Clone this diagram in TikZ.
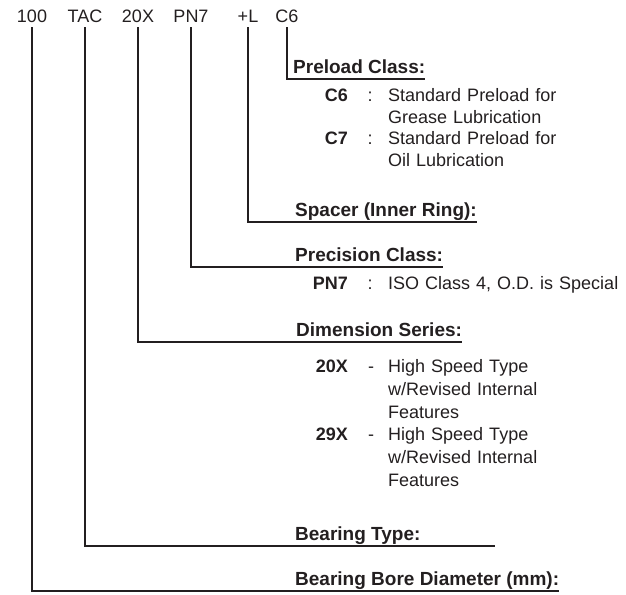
\documentclass[tikz,border=0pt]{standalone}
\usepackage{fontspec}
\setmainfont{Liberation Sans}
\usetikzlibrary{positioning,calc}
\definecolor{CodeInk}{HTML}{231F20}

\begin{document}
\begin{tikzpicture}[
    x=1pt, y=1pt,
    font=\fontsize{18}{21.5}\selectfont,
    text=CodeInk,
    code/.style={
      inner xsep=0pt,
      inner ysep=4pt,
      text depth=0pt,
      anchor=base
    },
    head/.style={
      font=\fontsize{19}{22}\selectfont\bfseries,
      inner xsep=0pt,
      inner ysep=5.5pt,
      text depth=0pt,
      anchor=south west
    },
    key/.style={font=\fontsize{18}{21.5}\selectfont\bfseries, inner sep=0pt, anchor=base east},
    sep/.style={inner sep=0pt, anchor=base},
    desc/.style={inner sep=0pt, anchor=base west, text width=236pt, align=left},
    lead/.style={draw=CodeInk, line width=2pt}
  ]
  \useasboundingbox (0,0) rectangle (626,594);

  \node[code] (c100) at (32,571) {100};
  \node[code] (cTAC) at (85,571) {TAC};
  \node[code] (c20X) at (138,571) {20X};
  \node[code] (cPN7) at (191,571) {PN7};
  \node[code] (cL) at (248,571) {+L};
  \node[code] (cC6) at (287,571) {C6};

  \node[head] (hPre) at (293,515) {Preload Class:};
  \node[key] (kC6) at (348,492) {C6};
  \node[sep] (sC6) at (370,492) {:};
  \node[desc] (dC6) at (388,492) {Standard Preload for\\Grease Lubrication};
  \node[key] (kC7) at (348,449) {C7};
  \node[sep] (sC7) at (370,449) {:};
  \node[desc] (dC7) at (388,449) {Standard Preload for\\Oil Lubrication};

  \node[head] (hSpa) at (295,372) {Spacer (Inner Ring):};

  \node[head] (hPre2) at (295,327) {Precision Class:};
  \node[key] (kPN7) at (348,304) {PN7};
  \node[sep] (sPN7) at (370,304) {:};
  \node[desc] (dPN7) at (388,304) {ISO Class 4, O.D. is Special};

  \node[head] (hDim) at (296,252) {Dimension Series:};
  \node[key] (k20X) at (348,221) {20X};
  \node[sep] (s20X) at (371,221) {-};
  \node[desc, font=\fontsize{18}{22.8}\selectfont] (d20X) at (388,221) {High Speed Type\\w/Revised Internal\\Features};
  \node[key] (k29X) at (348,153) {29X};
  \node[sep] (s29X) at (371,153) {-};
  \node[desc, font=\fontsize{18}{22.8}\selectfont] (d29X) at (388,153) {High Speed Type\\w/Revised Internal\\Features};

  \node[head] (hTyp) at (295,48) {Bearing Type:};
  \node[head] (hBor) at (295,3) {Bearing Bore Diameter (mm):};

  \draw[lead] (cC6.south) |- (hPre.south east);
  \draw[lead] (cL.south) |- (hSpa.south east);
  \draw[lead] (cPN7.south) |- (hPre2.south east);
  \draw[lead] (c20X.south) |- (hDim.south east);
  \draw[lead] (cTAC.south) |- ($(hTyp.south west)+(200,0)$);
  \draw[lead] (c100.south) |- (hBor.south east);
\end{tikzpicture}
\end{document}
